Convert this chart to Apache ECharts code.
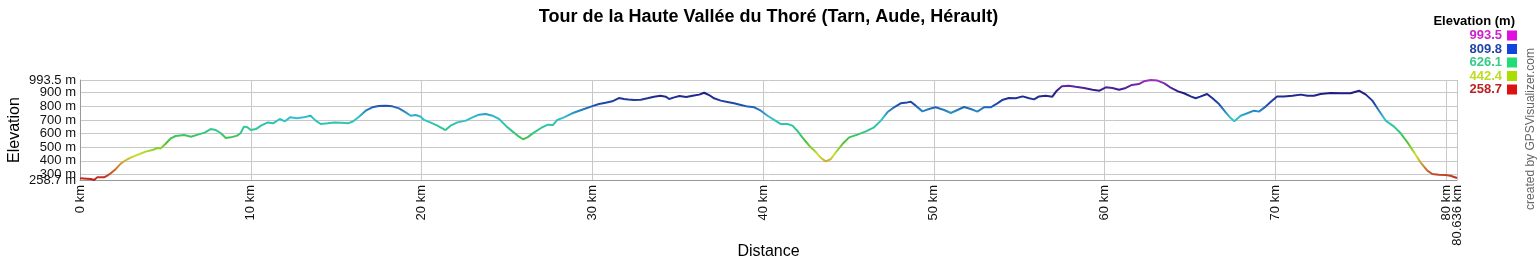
<!DOCTYPE html>
<html>
<head>
<meta charset="utf-8">
<script src="https://cdn.jsdelivr.net/npm/echarts@6/dist/echarts.min.js"></script>
<style>
html,body{margin:0;padding:0;background:#fff;}
#chart{width:1537px;height:260px;}
</style>
</head>
<body>
<div id="chart"></div>
<script>
const titleText = 'Tour de la Haute Vallée du Thoré (Tarn, Aude, Hérault)';
const distKm = [0,0.63,0.83,1.0,1.4,1.6,1.8,2.1,2.4,2.8,3.1,3.5,3.85,4.25,4.54,4.73,5.0,5.32,5.6,6.1,6.5,6.9,7.3,7.65,7.95,8.25,8.54,8.83,9.2,9.4,9.6,9.8,10.0,10.3,10.6,11.0,11.3,11.7,12.0,12.3,12.7,13.1,13.5,13.8,14.1,14.5,14.9,15.3,15.7,16.0,16.34,16.73,17.12,17.5,17.9,18.29,18.68,19.07,19.37,19.66,19.95,20.15,20.54,20.93,21.4,21.7,22.1,22.6,22.98,23.37,23.76,24.15,24.54,24.93,25.32,25.71,25.94,26.2,26.6,27.0,27.4,27.7,27.95,28.34,28.83,29.4,29.96,30.39,30.78,31.17,31.56,31.85,32.1,32.45,32.84,33.23,33.62,34.0,34.3,34.5,34.8,35.1,35.5,35.87,36.26,36.55,36.84,37.13,37.52,37.91,38.3,38.7,39.1,39.48,39.87,40.26,40.65,41.04,41.43,41.72,42.0,42.3,42.7,43.1,43.4,43.67,43.97,44.26,44.65,45.04,45.53,46.02,46.5,46.9,47.28,47.67,48.06,48.45,48.65,48.94,49.33,49.72,50.1,50.6,51.0,51.38,51.77,52.16,52.55,52.94,53.33,53.72,54.0,54.4,54.8,55.2,55.58,55.87,56.16,56.55,56.94,57.2,57.5,57.9,58.3,58.8,59.3,59.7,60.07,60.46,60.85,61.24,61.6,62.0,62.3,62.7,63.1,63.5,63.9,64.3,64.65,65.04,65.33,65.6,66.0,66.3,66.7,67.09,67.38,67.6,67.97,68.36,68.75,69.04,69.43,69.82,70.1,70.5,71.0,71.5,71.87,72.26,72.65,73.24,73.82,74.4,74.9,75.3,75.68,76.07,76.46,76.95,77.34,77.73,78.12,78.5,78.9,79.19,79.58,79.97,80.26,80.636];
const elevM = [271,266,259,278,278,291,308,340,381,413,430,450,467,479,494,491,523,565,582,589,577,592,607,633,626,602,567,572,585,602,651,646,626,633,658,682,675,707,690,719,712,719,731,695,670,675,682,680,675,690,724,768,793,802,805,800,785,756,731,736,724,700,680,658,626,658,682,695,719,739,744,731,707,658,616,577,558,572,609,641,665,663,700,719,749,775,800,817,827,837,861,854,850,846,849,859,871,878,871,854,866,876,869,878,886,900,883,859,842,832,822,810,798,793,768,731,700,670,670,658,621,572,511,462,420,396,413,462,523,572,592,616,646,695,756,793,822,829,834,805,763,780,793,773,751,773,795,780,761,793,793,822,846,861,859,873,859,851,873,878,871,915,947,952,944,935,922,915,940,935,922,935,957,964,984,993,989,969,935,910,896,873,859,871,891,861,817,756,714,690,731,749,768,761,798,842,873,873,878,886,878,878,891,898,896,896,915,886,842,768,695,651,602,536,462,388,327,303,298,296,290,273];
const elevMin = 258.7;
const elevMax = 993.5;
const distMax = 80.636;
const legendTitle = 'Elevation (m)';
const legendValues = ['993.5','809.8','626.1','442.4','258.7'];
const legendTextColors = ['#cc22cc','#2244aa','#33cc88','#bbdd22','#bb2222'];
const legendBoxColors = ['#dd11dd','#1144dd','#22dd77','#aadd00','#dd1111'];
const lineColors = ['#b82020','#d07a30','#cde030','#50c030','#30c890','#30c0d0','#2050b0','#201a80','#a030c0'];
const creditText = 'created by GPSVisualizer.com';

const data = distKm.map((d,i)=>[d, elevM[i]]);
const FONT = '"Liberation Sans", Arial, sans-serif';

const graphics = [{
  type:'text', right: 22, top: 15,
  style:{text: legendTitle, font:'bold 13px ' + FONT, fill:'#000', textAlign:'right'}
}];
legendValues.forEach((v,i)=>{
  graphics.push({type:'text', x: 1502, y: 29 + i*13.5,
    style:{text:v, font:'bold 13px ' + FONT, fill:legendTextColors[i], textAlign:'right'}});
  graphics.push({type:'rect', shape:{x:1507, y:30.5 + i*13.5, width:10, height:10},
    style:{fill:legendBoxColors[i]}});
});
graphics.push({type:'text', x:1525, y:129, rotation: Math.PI/2,
  style:{text:creditText, font:'12px ' + FONT, fill:'#666', textAlign:'center', textVerticalAlign:'top'}});

const xLabel = {rotate:90, margin:5, hideOverlap:false, fontFamily:FONT, fontSize:13, color:'#111', formatter:v=> v + ' km'};
const yLabel = {margin:4, hideOverlap:false, fontFamily:FONT, fontSize:13, color:'#111', formatter:v=> v + ' m'};

const chart = echarts.init(document.getElementById('chart'), null, {renderer:'canvas'});
chart.setOption({
  animation:false,
  backgroundColor:'#fff',
  title:{text:titleText, left:'center', top:3,
    textStyle:{fontFamily:'"Liberation Sans Narrow", ' + FONT, fontWeight:'bold', fontSize:18, color:'#000'}},
  grid:{left:80, right:80, top:80, bottom:80, containLabel:false, outerBoundsMode:'none'},
  xAxis:[{type:'value', min:0, max:distMax, interval:10,
    name:'Distance', nameLocation:'middle', nameGap:64,
    nameTextStyle:{fontFamily:FONT, fontSize:16, color:'#000'},
    axisLine:{show:true, lineStyle:{color:'#999'}},
    axisTick:{show:false},
    splitLine:{show:true, lineStyle:{color:'#c8c8c8', width:1}},
    axisLabel:Object.assign({showMinLabel:true, showMaxLabel:false}, xLabel)},
   {type:'value', min:0, max:distMax, position:'bottom',
    axisLine:{show:false}, axisTick:{show:false}, splitLine:{show:false},
    axisLabel:Object.assign({customValues:[distMax]}, xLabel)}],
  yAxis:[{type:'value', min:elevMin, max:elevMax, minInterval:100, maxInterval:100, splitNumber:7,
    name:'Elevation', nameLocation:'middle', nameGap:57,
    nameTextStyle:{fontFamily:FONT, fontSize:16, color:'#000'},
    axisLine:{show:true, lineStyle:{color:'#999'}},
    axisTick:{show:false},
    splitLine:{show:true, lineStyle:{color:'#c8c8c8', width:1}},
    axisLabel:Object.assign({showMinLabel:false, showMaxLabel:false}, yLabel)},
   {type:'value', min:elevMin, max:elevMax, position:'left',
    axisLine:{show:false}, axisTick:{show:false}, splitLine:{show:false},
    axisLabel:Object.assign({customValues:[elevMin, elevMax]}, yLabel)}],
  visualMap:{show:false, type:'continuous', dimension:1, seriesIndex:0, min:elevMin, max:elevMax, inRange:{color:lineColors}},
  series:[{type:'line', xAxisIndex:0, yAxisIndex:0, data:data, showSymbol:false, symbol:'none', lineStyle:{width:2}, z:5}],
  graphic: graphics
});
</script>
</body>
</html>
